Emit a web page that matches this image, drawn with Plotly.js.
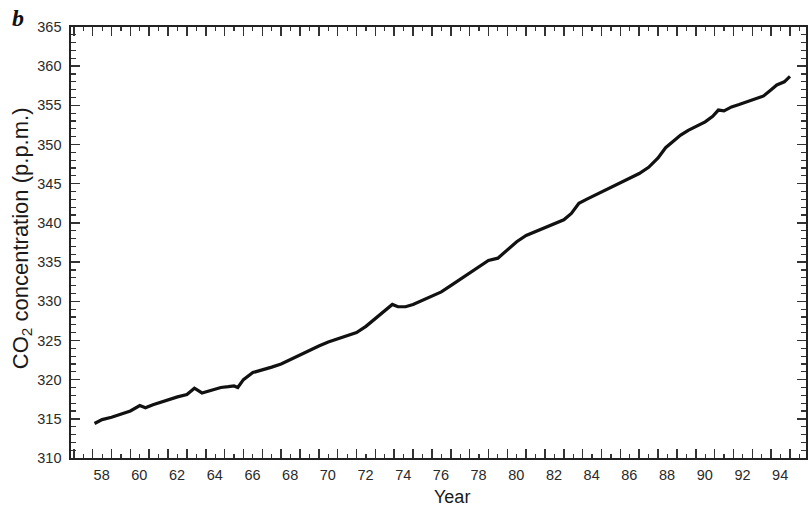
<!DOCTYPE html>
<html>
<head>
<meta charset="utf-8">
<script src="https://cdn.plot.ly/plotly-3.0.1.min.js"></script>
<style>
  html, body { margin: 0; padding: 0; background: #fff; }
  #chart { width: 808px; height: 511px; }
</style>
</head>
<body>
<div id="chart"></div>
<script>
// Decimal year (two-digit, 19xx) and CO2 concentration (p.p.m.)
const years = [
  58.1, 58.5, 59.0, 59.5, 60.0, 60.5, 60.8, 61.2, 61.6, 62.0,
  62.5, 63.0, 63.4, 63.8, 64.3, 64.8, 65.2, 65.5, 65.7, 66.0,
  66.5, 67.0, 67.5, 68.0, 68.6, 69.0, 69.5, 70.0, 70.5, 71.0,
  71.5, 72.0, 72.5, 72.9, 73.4, 73.9, 74.2, 74.6, 75.0, 75.5,
  76.0, 76.5, 77.0, 77.5, 78.0, 78.5, 79.0, 79.5, 80.0, 80.5,
  81.0, 81.5, 82.0, 82.5, 83.0, 83.4, 83.8, 84.2, 84.7, 85.2,
  85.6, 86.0, 86.5, 87.0, 87.5, 88.0, 88.4, 88.8, 89.2, 89.6,
  90.0, 90.5, 90.9, 91.2, 91.5, 91.9, 92.3, 92.8, 93.2, 93.6,
  94.0, 94.3, 94.7, 95.0
];
const co2 = [
  314.4, 314.9, 315.2, 315.6, 316.0, 316.7, 316.4, 316.8, 317.1, 317.5,
  317.8, 318.1, 318.9, 318.3, 318.7, 319.0, 319.1, 319.2, 319.0, 320.0,
  320.9, 321.2, 321.6, 322.0, 322.7, 323.2, 323.7, 324.3, 324.8, 325.2,
  325.6, 326.0, 326.8, 327.6, 328.5, 329.6, 329.3, 329.3, 329.6, 330.1,
  330.6, 331.2, 332.0, 332.8, 333.6, 334.4, 335.2, 335.5, 336.6, 337.6,
  338.4, 338.9, 339.4, 339.9, 340.4, 341.2, 342.5, 343.0, 343.6, 344.1,
  344.6, 345.1, 345.7, 346.3, 347.1, 348.3, 349.6, 350.4, 351.2, 351.8,
  352.3, 352.9, 353.6, 354.4, 354.3, 354.8, 355.1, 355.5, 355.9, 356.2,
  357.0, 357.6, 358.0, 358.7
];
// Year tick marks (at year boundaries); even years carry a label centred on the year
const yearTicks = [57,58,59,60,61,62,63,64,65,66,67,68,69,70,71,72,73,74,75,76,77,78,79,80,81,82,83,84,85,86,87,88,89,90,91,92,93,94,95];
const yearLabels = ["","58","","60","","62","","64","","66","","68","","70","","72","","74","","76","","78","","80","","82","","84","","86","","88","","90","","92","","94",""];
const yTicks = [310, 315, 320, 325, 330, 335, 340, 345, 350, 355, 360, 365];
const xRange = [56.85, 95.85];
const yRange = [310, 365];

const sans = "Liberation Sans, Arial, Helvetica, sans-serif";
const tickFont = { family: sans, size: 14.5, color: "#2a2a2a" };

const trace = {
  x: years, y: co2, type: "scatter", mode: "lines",
  line: { color: "#111", width: 3.2 },
  hoverinfo: "x+y", showlegend: false
};

const layout = {
  width: 808, height: 511,
  margin: { l: 71, r: 2, t: 27, b: 53 },
  paper_bgcolor: "#fff", plot_bgcolor: "#fff",
  xaxis: {
    range: xRange, tickmode: "array", tickvals: yearTicks, ticktext: yearLabels,
    ticks: "inside", ticklen: 9, tickwidth: 1.5, tickcolor: "#333",
    ticklabelshift: 9, ticklabelstandoff: 3,
    minor: { dtick: 0.5, tick0: 0, ticks: "inside", ticklen: 4, tickwidth: 1.2, tickcolor: "#333", showgrid: false },
    showline: true, linecolor: "#222", linewidth: 1.6, mirror: "ticks",
    showgrid: false, zeroline: false,
    tickfont: tickFont
  },
  yaxis: {
    range: yRange, tickmode: "array", tickvals: yTicks,
    ticks: "inside", ticklen: 9, tickwidth: 1.5, tickcolor: "#333",
    ticklabelstandoff: 5,
    minor: { dtick: 1, tick0: 0, ticks: "inside", ticklen: 5, tickwidth: 1.2, tickcolor: "#333", showgrid: false },
    showline: true, linecolor: "#222", linewidth: 1.6, mirror: "ticks",
    showgrid: false, zeroline: false,
    tickfont: tickFont
  },
  annotations: [
    {
      text: "<b><i>b</i></b>", xref: "paper", yref: "paper",
      x: -0.072, y: 1.021, xanchor: "center", yanchor: "middle", showarrow: false,
      font: { family: "Liberation Serif, Times New Roman, serif", size: 24, color: "#111" }
    },
    {
      text: "CO<sub>2</sub> concentration (p.p.m.)", xref: "paper", yref: "paper",
      x: -0.0667, y: 0.51, xanchor: "center", yanchor: "middle", textangle: -90, showarrow: false,
      font: { family: sans, size: 22, color: "#1a1a1a" }
    },
    {
      text: "Year", xref: "paper", yref: "paper",
      x: 0.518, y: -0.0905, xanchor: "center", yanchor: "middle", showarrow: false,
      font: { family: sans, size: 18, color: "#1a1a1a" }
    }
  ]
};

Plotly.newPlot("chart", [trace], layout, { displayModeBar: false, staticPlot: true });
</script>
</body>
</html>
